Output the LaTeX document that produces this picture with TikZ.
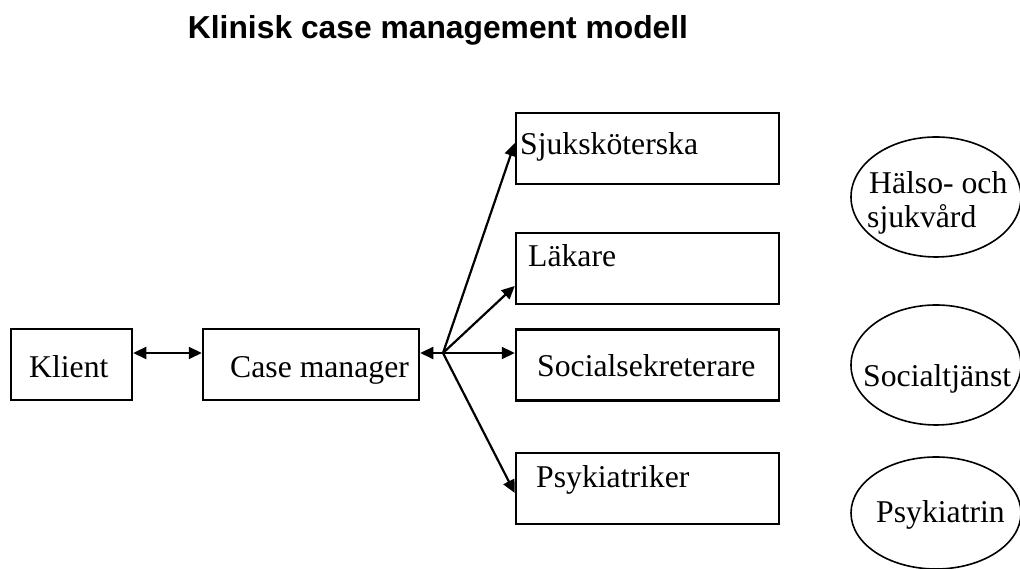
\documentclass[tikz,border=0pt]{standalone}
\usepackage{fontspec}
\setmainfont{Liberation Serif}
\newfontfamily\titlefont{Liberation Sans}
\usepackage{tikz}
\usetikzlibrary{arrows.meta,calc,shapes.geometric,positioning}

\begin{document}
\begin{tikzpicture}[x=1pt,y=1pt,
    rolebox/.style={draw,line width=2.5pt,rectangle,minimum height=71pt,inner sep=0pt},
    area/.style={draw,line width=1.6pt,ellipse,minimum width=170pt,minimum height=120pt,inner sep=0pt},
    lbl/.style={anchor=base west,inner sep=0pt,font=\fontsize{31.7}{34}\selectfont},
    link/.style={line width=2.2pt,-{Triangle[length=13pt,width=12pt]}}]
  \useasboundingbox (0,0) rectangle (1020,569);
  \node[font=\titlefont\bfseries\fontsize{31.8}{34}\selectfont,anchor=base] (title) at (438,530) {Klinisk case management modell};
  % boxes
  \node[rolebox,minimum width=121pt] (klient) at (71.5,204.5) {};
  \node[rolebox,minimum width=216pt] (casem) at (311,204.5) {};
  \node[rolebox,minimum width=263pt] (sjuk) at (647.5,420.5) {};
  \node[rolebox,minimum width=263pt] (lakare) at (647.5,300.5) {};
  \node[rolebox,minimum width=263pt] (socsek) at (647.5,204) {};
  \node[rolebox,minimum width=263pt] (psyk) at (647.5,80.5) {};
  \node[lbl] (klientT) at (29,191) {Klient};
  \node[lbl] (casemT) at (230,191) {Case manager};
  \node[lbl] (sjukT) at (520,414) {Sjuksköterska};
  \node[lbl] (lakareT) at (528,302) {Läkare};
  \node[lbl] (socsekT) at (537,192) {Socialsekreterare};
  \node[lbl] (psykT) at (536,81) {Psykiatriker};
  % organisations
  \node[area] (halso) at (936,372) {};
  \node[area] (soctj) at (936,204) {};
  \node[area,minimum height=112pt] (psykin) at (936,56) {};
  \node[lbl] (halsoT) at (869,375) {Hälso- och};
  \node[lbl] (halsoU) at (867,341) {sjukvård};
  \node[lbl] (soctjT) at (863,182) {Socialtjänst};
  \node[lbl] (psykinT) at (876,46) {Psykiatrin};
  % arrows
  \coordinate (hub) at (443,216);
  \draw[link,{Triangle[length=13pt,width=12pt]}-{Triangle[length=13pt,width=12pt]}] ([yshift=11.5pt]klient.east) -- ([yshift=11.5pt]casem.west);
  \draw[link] (hub) -- ([yshift=11.5pt]casem.east);
  \draw[link] (hub) -- ([yshift=5.5pt]sjuk.west);
  \draw[link] (hub) -- ([yshift=-17.5pt]lakare.west);
  \draw[link] (hub) -- ([yshift=12pt]socsek.west);
  \draw[link] (hub) -- ([yshift=-4.5pt]psyk.west);
\end{tikzpicture}
\end{document}
